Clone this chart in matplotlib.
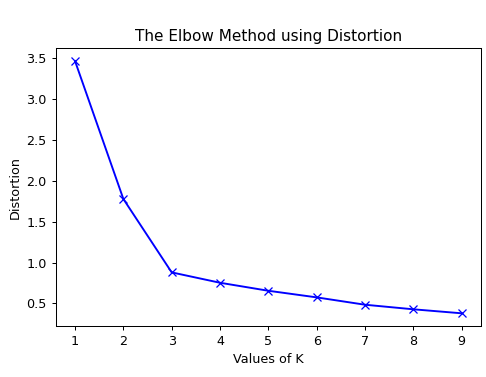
import matplotlib
matplotlib.use("Agg")
import matplotlib.pyplot as plt

K = [1, 2, 3, 4, 5, 6, 7, 8, 9]
distortion = [3.467, 1.778, 0.879, 0.752, 0.654, 0.573, 0.483, 0.427, 0.378]

DPI = 91.4
fig = plt.figure(figsize=(486/DPI, 377/DPI), dpi=DPI)
ax = fig.add_axes([0.1146, 0.1355, 0.8751, 0.7361])
ax.plot(K, distortion, 'bx-')
ax.set_xlabel('Values of K')
ax.set_ylabel('Distortion')
ax.set_title('The Elbow Method using Distortion')
fig.savefig('out.png', dpi=DPI)
